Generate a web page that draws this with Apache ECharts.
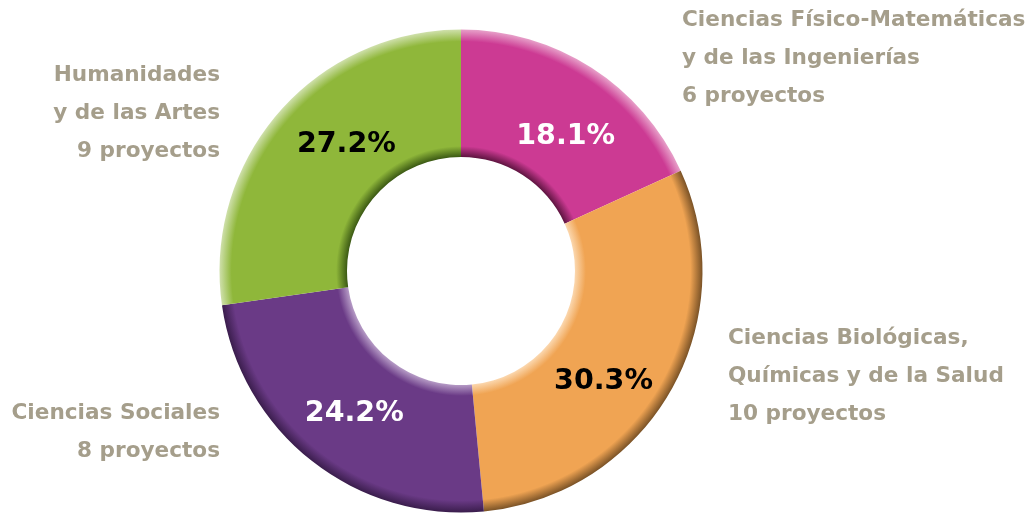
<!DOCTYPE html>
<html>
<head>
<meta charset="utf-8">
<script src="https://cdn.jsdelivr.net/npm/echarts@6/dist/echarts.min.js"></script>
<style>
  html, body { margin: 0; padding: 0; background: #fff; }
  #chart { width: 1030px; height: 513px; }
</style>
</head>
<body>
<div id="chart"></div>
<script>
// data (clockwise from the top)
const categories = [
  'Ciencias Físico-Matemáticas\ny de las Ingenierías',
  'Ciencias Biológicas,\nQuímicas y de la Salud',
  'Ciencias Sociales',
  'Humanidades\ny de las Artes'
]
const projects = [6, 10, 8, 9]
const percentLabels = ['18.1%', '30.3%', '24.2%', '27.2%']

const colors = ['#cc3a93', '#f0a453', '#6a3a86', '#8fb73a']
// inner edge / outer edge shading (bevel look)
const innerShade = ['#5e1440', '#fbd7ae', '#b59ac5', '#3c5a14']
const outerShade = ['#e7a0c9', '#7a5226', '#3a1d4c', '#cfe0ab']
const pctColors = ['#ffffff', '#000000', '#ffffff', '#000000']
const pctOffset = [[7, 18], [-14, 20], [5, 1], [22, -8]]

const cx = 461, cy = 271, rIn = 114, rOut = 241.5
const f = rIn / rOut

// category label placement: [x, y, align]
const labelPos = [
  [682, 1, 'left'],
  [728, 319, 'left'],
  [220, 394, 'right'],
  [220, 56, 'right']
]

const chart = echarts.init(document.getElementById('chart'))

const seriesData = projects.map((v, i) => ({
  name: categories[i],
  value: v,
  itemStyle: {
    color: {
      type: 'radial', x: cx, y: cy, r: rOut, global: true,
      colorStops: [
        { offset: 0, color: innerShade[i] },
        { offset: f, color: innerShade[i] },
        { offset: f + 0.045, color: colors[i] },
        { offset: 0.95, color: colors[i] },
        { offset: 1, color: outerShade[i] }
      ]
    }
  },
  label: { color: pctColors[i], offset: pctOffset[i] }
}))

const graphics = categories.map((c, i) => ({
  type: 'text',
  x: labelPos[i][0],
  y: labelPos[i][1],
  style: {
    text: c + '\n' + projects[i] + ' proyectos',
    fill: '#a59e8b',
    font: 'bold 21.6px "DejaVu Sans"',
    lineHeight: 38,
    align: labelPos[i][2],
    verticalAlign: 'top'
  }
}))

chart.setOption({
  backgroundColor: '#fff',
  animation: false,
  series: [{
    type: 'pie',
    center: [cx, cy],
    radius: [rIn, rOut],
    startAngle: 90,
    clockwise: true,
    silent: true,
    itemStyle: { borderWidth: 0 },
    label: {
      position: 'inside',
      fontFamily: 'DejaVu Sans',
      fontWeight: 'bold',
      fontSize: 28.5,
      formatter: p => percentLabels[p.dataIndex]
    },
    labelLine: { show: false },
    data: seriesData
  }],
  graphic: graphics
})
</script>
</body>
</html>
